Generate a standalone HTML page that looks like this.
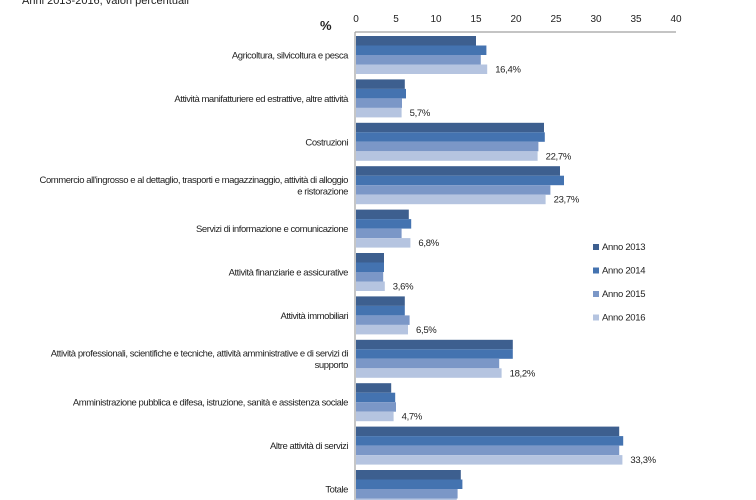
<!DOCTYPE html>
<html><head><meta charset="utf-8">
<style>
body{margin:0;background:#fff;}
svg{display:block;font-family:"Liberation Sans",Arial,sans-serif;}
</style></head>
<body>
<svg id="chart" width="756" height="500" viewBox="0 0 756 500">
<text x="22" y="4" font-size="11" fill="#222">Anni 2013-2016, valori percentuali</text>
<text x="320" y="30" font-size="13" font-weight="bold" fill="#222">%</text>
<g id="axes"></g><g id="bars"></g><g id="labels"></g><g id="legend"></g>
</svg>
<script>
const categories = [
 ["Agricoltura, silvicoltura e pesca"],
 ["Attività manifatturiere ed estrattive, altre attività"],
 ["Costruzioni"],
 ["Commercio all'ingrosso e al dettaglio, trasporti e magazzinaggio, attività di alloggio","e ristorazione"],
 ["Servizi di informazione e comunicazione"],
 ["Attività finanziarie e assicurative"],
 ["Attività immobiliari"],
 ["Attività professionali, scientifiche e tecniche, attività amministrative e di servizi di","supporto"],
 ["Amministrazione pubblica e difesa, istruzione, sanità e assistenza sociale"],
 ["Altre attività di servizi"],
 ["Totale"]
];
const series2013 = [15.0, 6.1, 23.5, 25.5, 6.6, 3.5, 6.1, 19.6, 4.4, 32.9, 13.1];
const series2014 = [16.3, 6.25, 23.6, 26.0, 6.9, 3.5, 6.1, 19.6, 4.9, 33.4, 13.3];
const series2015 = [15.6, 5.75, 22.8, 24.3, 5.7, 3.4, 6.7, 17.9, 5.0, 32.9, 12.7];
const series2016 = [16.4, 5.7, 22.7, 23.7, 6.8, 3.6, 6.5, 18.2, 4.7, 33.3, 12.6];
const seriesNames = ["Anno 2013","Anno 2014","Anno 2015","Anno 2016"];
const valueLabels = ["16,4%","5,7%","22,7%","23,7%","6,8%","3,6%","6,5%","18,2%","4,7%","33,3%","12,6%"];
const ticks = [0,5,10,15,20,25,30,35,40];

const NS="http://www.w3.org/2000/svg";
const colors=["#3d5f8f","#4473b0","#7b97c7","#b5c4e0"];
const x0=356, pxPerUnit=8.0, axisY=32, groupTop=36, groupStep=43.4, barH=9.5;
const xs=v=>x0+v*pxPerUnit;
const gy=i=>groupTop+i*groupStep;
function mk(tag,attrs,parent){const e=document.createElementNS(NS,tag);for(const k in attrs)e.setAttribute(k,attrs[k]);parent.appendChild(e);return e;}
const axes=document.getElementById('axes'),bars=document.getElementById('bars'),labels=document.getElementById('labels'),legend=document.getElementById('legend');

let l=mk('line',{x1:x0-1,y1:axisY,x2:xs(40),y2:axisY,stroke:'#a0a0a0','stroke-width':1.2},axes);


l=mk('line',{x1:x0-1,y1:axisY,x2:x0-1,y2:500,stroke:'#a0a0a0','stroke-width':1.2},axes);


ticks.forEach(t=>{
 const e=mk('text',{x:xs(t),y:22,'font-size':10,'text-anchor':'middle',fill:'#222'},axes);
 e.textContent=t;
 
 
});
const all=[series2013,series2014,series2015,series2016];
categories.forEach((cat,i)=>{
 all.forEach((s,j)=>{
  const r=mk('rect',{x:x0,y:gy(i)+j*barH,width:Math.max(0,xs(s[i])-x0),height:barH,fill:colors[j]},bars);
  
  
 });
 const v=mk('text',{x:xs(series2016[i])+8,y:gy(i)+3*barH+8,'font-size':9.5,'letter-spacing':-0.3,fill:'#222'},labels);
 v.textContent=valueLabels[i];
 
 
 const cy=gy(i)+2*barH;
 cat.forEach((line,k)=>{
  const yy=cy+3.5+(k-(cat.length-1)/2)*11.5;
  const t=mk('text',{x:348,y:yy,'font-size':9.5,'letter-spacing':-0.45,'text-anchor':'end',fill:'#222'},labels);
  t.textContent=line;
  
  
 });
});
seriesNames.forEach((n,j)=>{
 const y=250+j*23.5;
 const g=mk('g',{},legend);
 
 
 mk('rect',{x:593,y:y-6,width:6,height:6,fill:colors[j]},g);
 const t=mk('text',{x:602,y:y,'font-size':9.5,'letter-spacing':-0.3,fill:'#222'},g);
 t.textContent=n;
});
</script>
</body></html>
